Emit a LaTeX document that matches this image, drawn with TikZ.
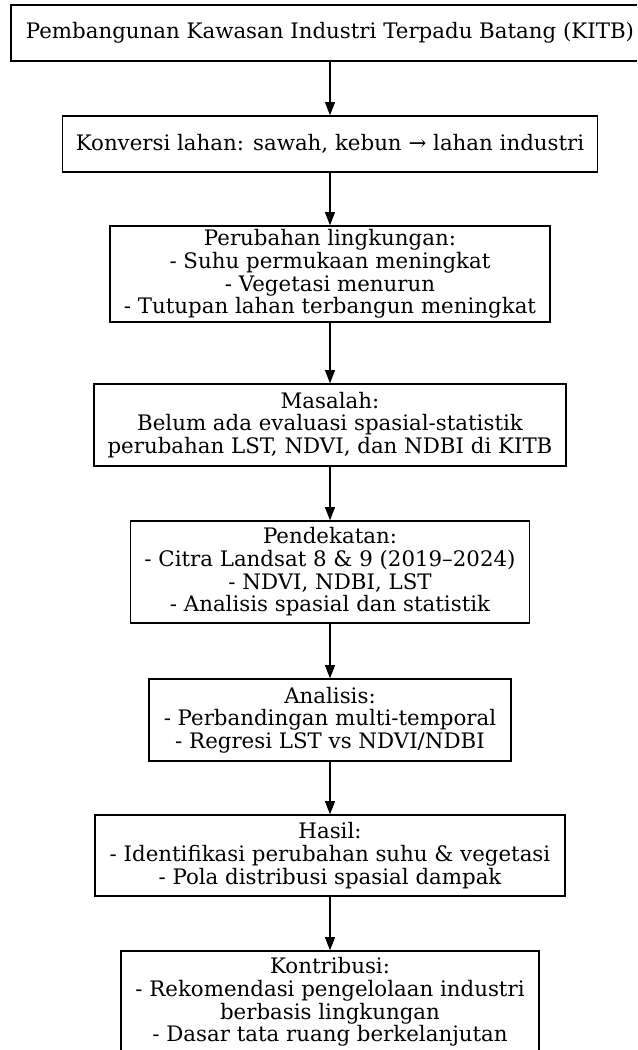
\documentclass[tikz,border=0pt]{standalone}
\usepackage{fontspec}
\setmainfont{DejaVu Serif}
\usetikzlibrary{arrows.meta}

\tikzset{
  stage/.style={draw=black, line width=1pt, align=center, inner sep=0pt,
    font=\fontsize{16}{17}\selectfont},
  flow/.style={draw=black, line width=1pt, -{Triangle[length=10pt,width=7.5pt]}}
}

\begin{document}
\begin{tikzpicture}[x=0.75pt,y=-0.75pt]
%% picture frame in pixels, the last box runs off the bottom
  \clip (0,0) rectangle (637,1050);
%% the stages, top to bottom
  \node [stage, minimum width=478.5pt, minimum height=42pt] (kitb) at (330,33)
    {Pembangunan Kawasan Industri Terpadu Batang (KITB)};
  \node [stage, minimum width=401.25pt, minimum height=42pt] (konversi) at (330,144)
    {Konversi lahan: sawah, kebun → lahan industri};
  \node [stage, minimum width=330pt, minimum height=72pt] (perubahan) at (330,274)
    {Perubahan lingkungan:\\- Suhu permukaan meningkat\\- Vegetasi menurun\\- Tutupan lahan terbangun meningkat};
  \node [stage, minimum width=354pt, minimum height=61.5pt] (masalah) at (330,425)
    {Masalah:\\Belum ada evaluasi spasial-statistik\\perubahan LST, NDVI, dan NDBI di KITB};
  \node [stage, minimum width=299.25pt, minimum height=76.5pt] (pendekatan) at (330,572)
    {Pendekatan:\\- Citra Landsat 8 \& 9 (2019–2024)\\- NDVI, NDBI, LST\\- Analisis spasial dan statistik};
  \node [stage, minimum width=271.5pt, minimum height=61.5pt] (analisis) at (330,720)
    {Analisis:\\- Perbandingan multi-temporal\\- Regresi LST vs NDVI/NDBI};
  \node [stage, minimum width=352.5pt, minimum height=60.75pt] (hasil) at (330,855.5)
    {Hasil:\\- Identifikasi perubahan suhu \& vegetasi\\- Pola distribusi spasial dampak};
  \node [stage, minimum width=313.5pt, minimum height=76.5pt] (kontribusi) at (330,1002)
    {Kontribusi:\\- Rekomendasi pengelolaan industri\\berbasis lingkungan\\- Dasar tata ruang berkelanjutan};
%% arrows between the stages
  \draw [flow] (kitb) -- (konversi);
  \draw [flow] (konversi) -- (perubahan);
  \draw [flow] (perubahan) -- (masalah);
  \draw [flow] (masalah) -- (pendekatan);
  \draw [flow] (pendekatan) -- (analisis);
  \draw [flow] (analisis) -- (hasil);
  \draw [flow] (hasil) -- (kontribusi);
\end{tikzpicture}
\end{document}
